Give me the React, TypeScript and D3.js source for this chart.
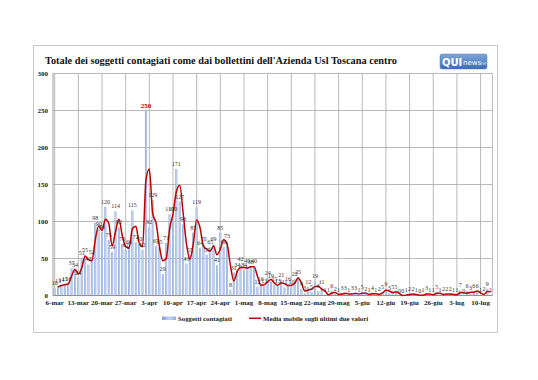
import React from "react";
import * as d3 from "d3";

// Daily values from 6-mar to 14-lug
const values: number[] = [
  10, 13, 14, 15, 16, 37, 34, 24, 51, 55,
  42, 52, 98, 90, 86, 120, 75, 59, 114, 92,
  70, 62, 66, 115, 72, 70, 62, 250, 92, 129,
  67, 65, 29, 71, 110, 110, 171, 127, 96, 43,
  55, 85, 119, 64, 70, 55, 65, 69, 41, 85,
  66, 73, 8, 31, 34, 42, 34, 40, 38, 40,
  12, 16, 13, 24, 19, 15, 13, 21, 11, 16,
  11, 22, 25, 9, 3, 12, 5, 19, 6, 11,
  1, 1, 6, 2, 1, 3, 3, 1, 3, 3,
  1, 5, 2, 1, 4, 1, 2, 5, 9, 3,
  5, 5, 0, 0, 1, 2, 2, 1, 0, 1,
  3, 1, 1, 5, 1, 2, 2, 2, 1, 1,
  7, 0, 6, 3, 6, 6, 1, 2, 9, 1,
];

const tickLabels: string[] = [
  "6-mar", "13-mar", "20-mar", "27-mar", "3-apr", "10-apr", "17-apr", "24-apr",
  "1-mag", "8-mag", "15-mag", "22-mag", "29-mag", "5-giu", "12-giu", "19-giu",
  "26-giu", "3-lug", "10-lug",
];
const tickEvery = 7;
const yTicks: number[] = [0, 50, 100, 150, 200, 250, 300];

const title = "Totale dei soggetti contagiati come dai bollettini dell'Azienda Usl Toscana centro";
const seriesName = "Soggetti contagiati";
const lineName = "Media mobile sugli ultimi due valori";

const SERIF = "'Liberation Serif', 'DejaVu Serif', serif";

export default function App() {
  const W = 538, H = 380;
  const left = 53, right = 492.4, top = 73.5, bottom = 295.5;
  const x = d3.scaleBand<number>()
    .domain(d3.range(values.length))
    .range([left, right])
    .paddingInner(0.4)
    .paddingOuter(0.2);
  const bw = x.bandwidth();
  const cx = (i: number) => (x(i) as number) + bw / 2;
  const y = d3.scaleLinear().domain([0, 300]).range([bottom, top]);

  const ma = values.map((v, i) => (i === 0 ? null : (v + values[i - 1]) / 2));
  const line = d3.line<number | null>()
    .defined((d) => d !== null)
    .x((_, i) => cx(i))
    .y((d) => y(d as number))
    .curve(d3.curveMonotoneX);

  const maxIdx = values.indexOf(d3.max(values) as number);

  return (
    <svg width={W} height={H} style={{ position: "absolute", left: 0, top: 0, background: "#fff" }}>
      <defs>
        <linearGradient id="barg" x1="0" x2="1" y1="0" y2="0">
          <stop offset="0" stopColor="#7e9cd4" />
          <stop offset="0.5" stopColor="#c2d2ee" />
          <stop offset="1" stopColor="#98b2e0" />
        </linearGradient>
        <linearGradient id="logog" x1="0" x2="0" y1="0" y2="1">
          <stop offset="0" stopColor="#7fa6dc" />
          <stop offset="1" stopColor="#3a6db5" />
        </linearGradient>
      </defs>
      <rect x={0} y={0} width={W} height={H} fill="#fff" />
      <rect x={33.5} y={45.5} width={464} height={287} fill="#fff" stroke="#c8c8c8" />

      <text x={45} y={64} fontFamily={SERIF} fontWeight="bold" fontSize={10.5} fill="#111"
        textLength={352} lengthAdjust="spacingAndGlyphs">{title}</text>

      <g>
        <rect x={440} y={54} width={47} height={15} rx={2} fill="url(#logog)" stroke="#5d7fb0" strokeWidth={0.5} />
        <text x={442} y={65.5} fontFamily="'DejaVu Sans', sans-serif" fontWeight="bold" fontSize={10} fill="#fff">QUI</text>
        <text x={463} y={65} fontFamily="'DejaVu Sans', sans-serif" fontSize={7} fill="#fff">news</text>
        <text x={479} y={65} fontFamily="'DejaVu Sans', sans-serif" fontSize={5} fill="#cfe0f7">.net</text>
      </g>

      {yTicks.map((t) => (
        <line key={"h" + t} x1={left} x2={right} y1={y(t)} y2={y(t)} stroke="#a8a8a8" strokeWidth={0.8} />
      ))}
      {tickLabels.map((_, k) => (
        <line key={"v" + k} x1={cx(k * tickEvery)} x2={cx(k * tickEvery)} y1={top} y2={bottom}
          stroke="#a8a8a8" strokeWidth={0.8} />
      ))}
      <line x1={left} x2={left} y1={top} y2={bottom} stroke="#888" strokeWidth={0.8} />
      <line x1={right} x2={right} y1={top} y2={bottom} stroke="#a8a8a8" strokeWidth={0.8} />

      {yTicks.map((t) => (
        <text key={"yl" + t} x={48} y={y(t) + 2.5} textAnchor="end" fontFamily={SERIF}
          fontWeight="bold" fontSize={7} fill="#222">{t}</text>
      ))}

      {values.map((v, i) => (
        <rect key={"b" + i} x={x(i)} y={y(v)} width={bw} height={bottom - y(v)} fill="url(#barg)" />
      ))}
      <line x1={left} x2={right} y1={bottom} y2={bottom} stroke="#888" strokeWidth={0.8} />

      <path d={line(ma) || ""} fill="none" stroke="#c00000" strokeWidth={1.5} />

      {values.map((v, i) =>
        i === maxIdx ? (
          <text key={"dl" + i} x={cx(i)} y={y(v) - 3} textAnchor="middle" fontFamily={SERIF}
            fontWeight="bold" fontSize={7} fill="#c00000">{v}</text>
        ) : (
          <text key={"dl" + i} x={cx(i)} y={y(v) - 3} textAnchor="middle" fontFamily={SERIF}
            fontSize={6} fill="#333">{v}</text>
        )
      )}

      {tickLabels.map((l, k) => (
        <text key={"xl" + k} x={cx(k * tickEvery)} y={305} textAnchor="middle" fontFamily={SERIF}
          fontWeight="bold" fontSize={7} fill="#222">{l}</text>
      ))}

      <rect x={162} y={316.5} width={14} height={3.5} fill="url(#barg)" />
      <text x={178} y={320.5} fontFamily={SERIF} fontWeight="bold" fontSize={6.8} fill="#222">{seriesName}</text>
      <line x1={249} x2={261} y1={318.3} y2={318.3} stroke="#c00000" strokeWidth={1.5} />
      <text x={263} y={320.5} fontFamily={SERIF} fontWeight="bold" fontSize={6.8} fill="#222">{lineName}</text>
    </svg>
  );
}
